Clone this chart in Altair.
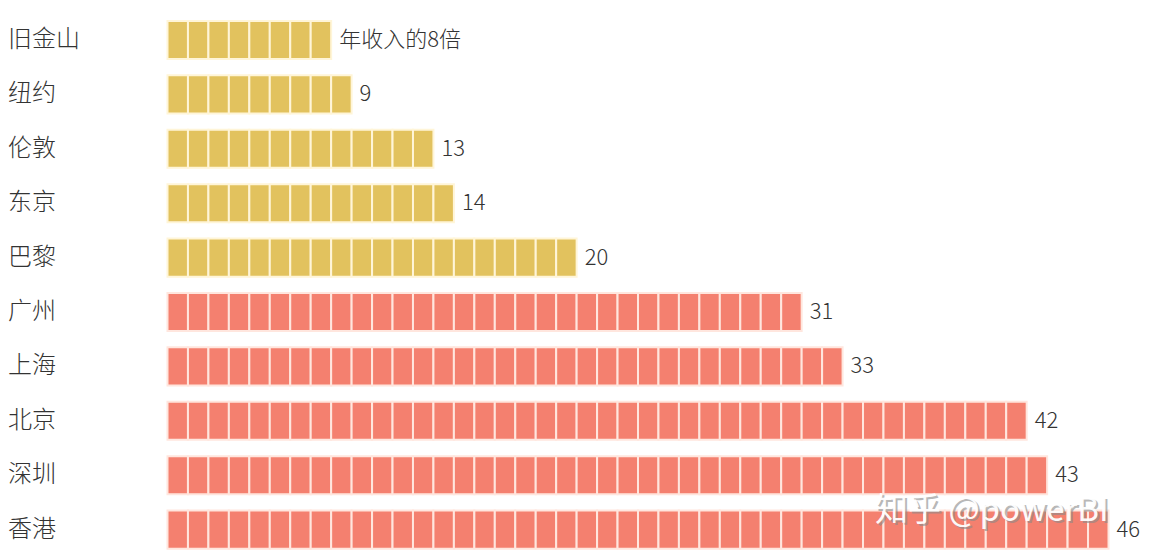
import altair as alt
import pandas as pd

cities = ["旧金山", "纽约", "伦敦", "东京", "巴黎", "广州", "上海", "北京", "深圳", "香港"]
values = [8, 9, 13, 14, 20, 31, 33, 42, 43, 46]
groups = ["海外", "海外", "海外", "海外", "海外", "国内", "国内", "国内", "国内", "国内"]
labels = ["年收入的8倍", "9", "13", "14", "20", "31", "33", "42", "43", "46"]
watermark = ["知乎 @powerBI"]

FONT = "Noto Sans CJK SC"

unit_rows = []
for i, (c, v, g) in enumerate(zip(cities, values, groups)):
    for k in range(v):
        unit_rows.append({"city": c, "idx": i, "group": g,
                          "x0": k, "x1": k + 1,
                          "y0": i - 0.35, "y1": i + 0.35})
units = pd.DataFrame(unit_rows)

lab = pd.DataFrame({"city": cities, "idx": list(range(len(cities))),
                    "value": values, "label": labels})

xs = alt.Scale(domain=[0, 46], range=[159.5, 1100.5], nice=False, zero=False)
ys = alt.Scale(domain=[0, 9], range=[32, 521.6], nice=False, zero=False)

stroke_scale = alt.Scale(domain=["海外", "国内"], range=["#FFF5D8", "#FFE6DE"])
fill_scale = alt.Scale(domain=["海外", "国内"], range=["#E2C25E", "#F4806F"])

bars = alt.Chart(units).mark_rect(strokeWidth=2).encode(
    x=alt.X("x0:Q", scale=xs, axis=None),
    x2="x1:Q",
    y=alt.Y("y0:Q", scale=ys, axis=None),
    y2="y1:Q",
    fill=alt.Fill("group:N", scale=fill_scale, legend=None),
    stroke=alt.Stroke("group:N", scale=stroke_scale, legend=None),
)

city_text = alt.Chart(lab).mark_text(
    align="left", baseline="middle", font=FONT, fontSize=24,
    fontWeight=300, color="#333333"
).encode(
    x=alt.value(0),
    y=alt.Y("idx:Q", scale=ys, axis=None),
    text="city:N",
)

value_text = alt.Chart(lab).mark_text(
    align="left", baseline="middle", font=FONT, fontSize=22,
    fontWeight=300, color="#333333", dx=8
).encode(
    x=alt.X("value:Q", scale=xs, axis=None),
    y=alt.Y("idx:Q", scale=ys, axis=None),
    text="label:N",
)

wm = pd.DataFrame({"t": watermark})
wm_shadow = alt.Chart(wm).mark_text(
    align="left", baseline="middle", font=FONT, fontSize=33,
    color="#8a8a8a", opacity=0.6
).encode(x=alt.value(869), y=alt.value(505), text="t:N")
wm_text = alt.Chart(wm).mark_text(
    align="left", baseline="middle", font=FONT, fontSize=33,
    color="#ffffff", opacity=0.95
).encode(x=alt.value(867), y=alt.value(503), text="t:N")

chart = alt.layer(bars, city_text, value_text, wm_shadow, wm_text).properties(
    width=1134, height=542,
    autosize=alt.AutoSizeParams(type="none"),
    padding=0,
).configure_view(stroke=None)

chart.save("out.html", embed_options={"renderer": "svg", "actions": False})
